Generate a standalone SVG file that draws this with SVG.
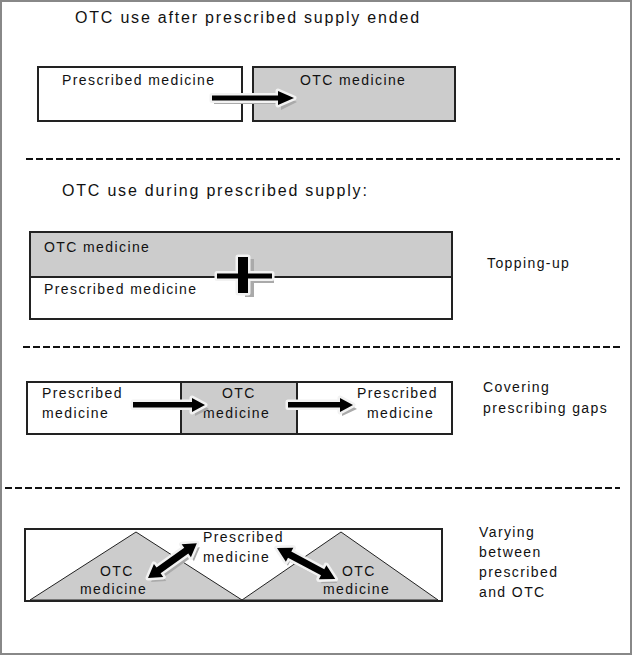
<svg xmlns="http://www.w3.org/2000/svg" width="633" height="656" viewBox="0 0 633 656">
<defs>
<style>
text{font-family:"Liberation Sans",Arial,sans-serif;fill:#111;}
.h{font-size:16px;letter-spacing:1.8px;}
.t{font-size:14px;letter-spacing:1.4px;}
.box{stroke:#222;stroke-width:2;}
.w{fill:#fff;}
.g{fill:#cccccc;}
.dash{stroke:#111;stroke-width:2.2;stroke-dasharray:7 3;fill:none;}
.sh{fill:#aaa;}
.halo{fill:#000;stroke:#f2f2f2;stroke-width:5;stroke-linejoin:round;paint-order:stroke;}
</style>
<path id="dbl" d="M0,0 L13,-8 L13,-3.5 L47,-3.5 L47,-8 L60,0 L47,8 L47,3.5 L13,3.5 L13,8 Z"/>
</defs>
<rect x="1" y="1" width="630" height="653" fill="#fff" stroke="#888" stroke-width="2"/>

<text class="h" x="75" y="23">OTC use after prescribed supply ended</text>

<g id="s1-prescribed">
<rect class="box w" x="38" y="67" width="204" height="54"/>
<text class="t" x="62" y="85">Prescribed medicine</text>
</g>
<g id="s1-otc">
<rect class="box g" x="253" y="67" width="202" height="54"/>
<text class="t" x="300" y="85">OTC medicine</text>
</g>

<g id="separators">
<line class="dash" x1="26" y1="159" x2="620" y2="159"/>
<line class="dash" x1="23" y1="347" x2="620" y2="347"/>
<line class="dash" x1="5" y1="488" x2="620" y2="488"/>
</g>

<text class="h" x="62" y="196">OTC use during prescribed supply:</text>

<g id="s2-box">
<rect class="box w" x="30" y="232" width="422" height="87"/>
<rect x="31" y="233" width="420" height="44" class="g"/>
<line x1="30" y1="277" x2="452" y2="277" stroke="#222" stroke-width="2"/>
<text class="t" x="44" y="252">OTC medicine</text>
<text class="t" x="44" y="294">Prescribed medicine</text>
</g>
<text class="t" x="487" y="268" id="lbl-topping">Topping-up</text>

<g id="s3-box">
<rect class="box w" x="27" y="382" width="425" height="52"/>
<rect class="box g" x="181" y="382" width="116" height="52"/>
<text class="t" x="42" y="398">Prescribed</text>
<text class="t" x="42" y="418">medicine</text>
<text class="t" x="222" y="398">OTC</text>
<text class="t" x="203" y="418">medicine</text>
<text class="t" x="357" y="398">Prescribed</text>
<text class="t" x="367" y="418">medicine</text>
</g>
<text class="t" x="483" y="392">Covering</text>
<text class="t" x="483" y="413">prescribing gaps</text>

<g id="s4-box">
<rect class="box w" x="25" y="529" width="417" height="72"/>
<polygon class="g" points="30,600 136,532 242,600" stroke="#222" stroke-width="1"/>
<polygon class="g" points="242,600 341,532 438,600" stroke="#222" stroke-width="1"/>
<text class="t" x="203" y="542">Prescribed</text>
<text class="t" x="203" y="562">medicine</text>
<text class="t" x="100" y="576">OTC</text>
<text class="t" x="80" y="594">medicine</text>
<text class="t" x="342" y="576">OTC</text>
<text class="t" x="323" y="594">medicine</text>
</g>
<text class="t" x="479" y="537">Varying</text>
<text class="t" x="479" y="557">between</text>
<text class="t" x="479" y="577">prescribed</text>
<text class="t" x="479" y="597">and OTC</text>

<g id="connectors">
<g>
<path class="sh" d="M214,99 L281,99 L281,94 L297,102 L281,110 L281,104 L214,104 Z"/>
<path class="halo" d="M212,95.5 L278,95.5 L278,91 L294,98 L278,105 L278,100.5 L212,100.5 Z"/>
</g>
<g>
<path class="sh" d="M245,259 L254,259 L254,277 L274,277 L274,283 L254,283 L254,297 L245,297 Z"/>
<path class="halo" d="M238,257 L248,257 L248,273.5 L272,273.5 L272,278.5 L248,278.5 L248,293 L238,293 L238,278.5 L217,278.5 L217,273.5 L238,273.5 Z"/>
</g>
<g>
<path class="sh" d="M135,405 L195,405 L195,400 L209,409 L195,416 L195,410 L135,410 Z"/>
<path class="halo" d="M133,402 L192,402 L192,398 L205,405 L192,412 L192,407.5 L133,407.5 Z"/>
</g>
<g>
<path class="sh" d="M290,405 L342,405 L342,400 L357,409 L342,416 L342,410 L290,410 Z"/>
<path class="halo" d="M288,402 L340,402 L340,398 L353,405 L340,412 L340,407.5 L288,407.5 Z"/>
</g>
<g>
<use href="#dbl" class="sh" transform="translate(151,582) rotate(-35.5)"/>
<use href="#dbl" class="halo" transform="translate(148,578) rotate(-35.5)"/>
</g>
<g>
<use href="#dbl" class="sh" transform="translate(279,552) rotate(28) scale(1.1,1)"/>
<use href="#dbl" class="halo" transform="translate(277,548) rotate(28) scale(1.1,1)"/>
</g>
</g>
</svg>
